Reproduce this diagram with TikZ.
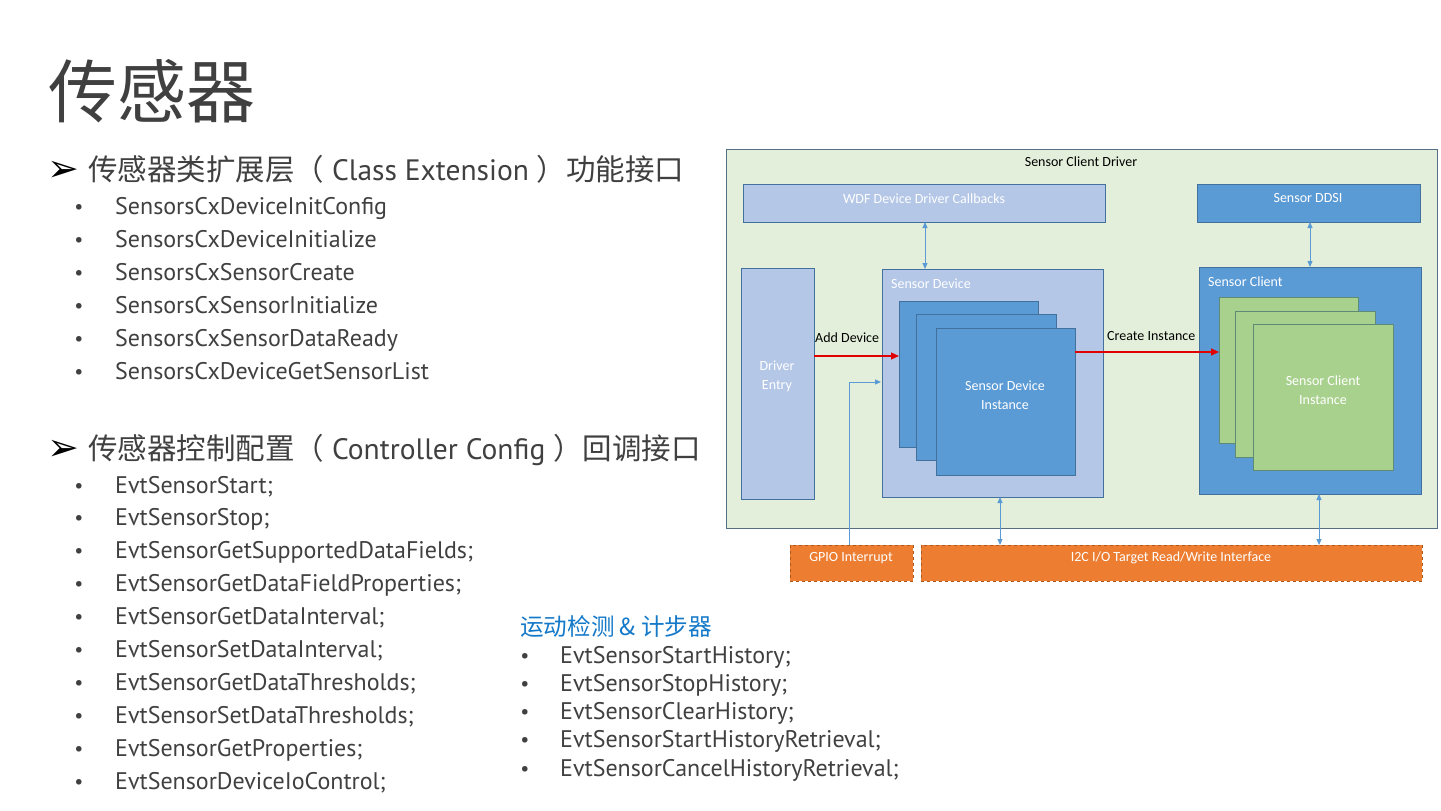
\documentclass[tikz,border=0pt]{standalone}
\usepackage{fontspec}
\setmainfont{PT Sans}
\newfontfamily\cjk{Noto Sans CJK SC}
\newfontfamily\dejavu{DejaVu Sans}
\newfontfamily\calib{Carlito}
\usetikzlibrary{arrows.meta,calc}

\definecolor{txt}{HTML}{404040}
\definecolor{headblue}{HTML}{1479C9}
\definecolor{bgreen}{HTML}{E3EFDA}
\definecolor{bgborder}{HTML}{557085}
\definecolor{lblue}{HTML}{B4C7E7}
\definecolor{mblue}{HTML}{5B9BD5}
\definecolor{bborder}{HTML}{41719C}
\definecolor{lgreen}{HTML}{A9D18E}
\definecolor{gborder}{HTML}{5F8A75}
\definecolor{orng}{HTML}{ED7D31}
\definecolor{oborder}{HTML}{A9581F}
\definecolor{conn}{HTML}{5B9BD5}
\definecolor{redarrow}{HTML}{E00000}

\tikzset{
  box/.style={draw=bborder, line width=0.8pt, inner sep=0pt, outer sep=0pt, anchor=north west},
  lbox/.style={box, fill=lblue},
  mbox/.style={box, fill=mblue},
  gbox/.style={box, draw=gborder, fill=lgreen},
  obox/.style={box, draw=oborder, dashed, fill=orng},
  wtext/.style={font=\calib\fontsize{14}{19}\selectfont, text=white, inner sep=0pt, align=center},
  ktext/.style={font=\calib\fontsize{14}{17}\selectfont, text=black, inner sep=0pt},
  blink/.style={draw=conn, line width=1pt},
  tip/.style={-{Triangle[length=6pt,width=5pt]}},
  dtip/.style={{Triangle[length=6pt,width=5pt]}-{Triangle[length=6pt,width=5pt]}},
  rlink/.style={draw=redarrow, line width=1.2pt, -{Triangle[length=8pt,width=7pt]}},
  item/.style={font=\fontsize{24}{27}\selectfont, text=txt, inner sep=0pt, anchor=base west},
  bul/.style={font=\fontsize{20}{24}\selectfont, text=txt, inner sep=0pt, anchor=base},
  head/.style={font=\fontsize{29.5}{32}\selectfont, text=txt, inner sep=0pt, anchor=base west},
  harrow/.style={font=\dejavu\fontsize{38}{40}\selectfont, text=black, inner sep=0pt, anchor=base west},
}

\begin{document}
\begin{tikzpicture}[x=1pt,y=-1pt]
\useasboundingbox (0,0) rectangle (1441,811);
\fill[white] (0,0) rectangle (1441,811);

% Title
\node[font=\cjk\fontsize{69}{72}\selectfont, text=txt, inner sep=0pt, anchor=base west] (title) at (48,117) {传感器};

% Heading 1
\node[harrow] (arr1) at (47,181) {➢};
\node[head] (h1) at (88,180) {{\cjk 传感器类扩展层（} Class Extension {\cjk ）功能接口}};

\foreach \t [count=\i] in {SensorsCxDeviceInitConfig,SensorsCxDeviceInitialize,SensorsCxSensorCreate,SensorsCxSensorInitialize,SensorsCxSensorDataReady,SensorsCxDeviceGetSensorList}{
  \node[bul] (ba\i) at (79,{206+33*(\i-1)+7}) {•};
  \node[item] (a\i) at (115,{206+33*(\i-1)+8}) {\t};
}

% Heading 2
\node[harrow] (arr2) at (47,460) {➢};
\node[head] (h2) at (88,459) {{\cjk 传感器控制配置（} Controller Config {\cjk ）回调接口}};

\foreach \t [count=\i] in {EvtSensorStart;,EvtSensorStop;,EvtSensorGetSupportedDataFields;,EvtSensorGetDataFieldProperties;,EvtSensorGetDataInterval;,EvtSensorSetDataInterval;,EvtSensorGetDataThresholds;,EvtSensorSetDataThresholds;,EvtSensorGetProperties;,EvtSensorDeviceIoControl;}{
  \node[bul] (bb\i) at (79,{485+32.9*(\i-1)+7}) {•};
  \node[item] (b\i) at (115,{485+32.9*(\i-1)+8}) {\t};
}

% Heading 3
\node[font=\cjk\fontsize{23.6}{26}\selectfont, text=headblue, inner sep=0pt, anchor=base west] (h3) at (520,635) {运动检测 \& 计步器};
\foreach \t [count=\i] in {EvtSensorStartHistory;,EvtSensorStopHistory;,EvtSensorClearHistory;,EvtSensorStartHistoryRetrieval;,EvtSensorCancelHistoryRetrieval;}{
  \node[bul] (bc\i) at (525,{655+28.3*(\i-1)+7}) {•};
  \node[item] (c\i) at (560,{655+28.3*(\i-1)+8}) {\t};
}

% ---------------- Diagram ----------------
\node[box, draw=bgborder, fill=bgreen, minimum width=711, minimum height=379] (scd) at (726,149) {};
\node[ktext] (scdt) at (1081,162) {Sensor Client Driver};

\node[lbox, minimum width=362, minimum height=38] (wdf) at (743,184) {};
\node[wtext] (wdft) at (924,199) {WDF Device Driver Callbacks};

\node[mbox, minimum width=223, minimum height=38] (ddsi) at (1197,184) {};
\node[wtext] (ddsit) at (1308,198) {Sensor DDSI};

\node[lbox, minimum width=73, minimum height=231] (de) at (741,268) {};
\node[wtext] (det) at (777,376) {Driver\\Entry};

\node[lbox, minimum width=221, minimum height=228] (sdev) at (882,269) {};
\node[wtext, anchor=west] (sdevt) at (891,284) {Sensor Device};

\node[mbox, minimum width=139, minimum height=146] (di1) at (899,301) {};
\node[mbox, minimum width=140, minimum height=146] (di2) at (916,314) {};
\node[mbox, minimum width=139, minimum height=147] (di3) at (936,328) {};
\node[wtext] (di3t) at (1005,395) {Sensor Device\\Instance};

\node[mbox, minimum width=222, minimum height=227] (scl) at (1199,267) {};
\node[wtext, anchor=west] (sclt) at (1208,282) {Sensor Client};

\node[gbox, minimum width=139, minimum height=146] (ci1) at (1219,297) {};
\node[gbox, minimum width=140, minimum height=146] (ci2) at (1235,311) {};
\node[gbox, minimum width=140, minimum height=146] (ci3) at (1253,324) {};
\node[wtext] (ci3t) at (1323,390) {Sensor Client\\Instance};

\node[obox, minimum width=123, minimum height=36] (gpio) at (790,545) {};
\node[wtext] (gpiot) at (851,558) {GPIO Interrupt};
\node[obox, minimum width=501, minimum height=36] (i2c) at (921,545) {};
\node[wtext] (i2ct) at (1171,558) {I2C I/O Target Read/Write Interface};

% helper coordinates
\coordinate (xa) at (925,0);
\coordinate (xb) at (1310,0);
\coordinate (xc) at (1000,0);
\coordinate (xd) at (1319,0);
\coordinate (xg) at (849,0);
\coordinate (yadd) at (0,356);
\coordinate (ycre) at (0,352);
\coordinate (ygp) at (0,382);

% connectors
\draw[blink, dtip] (wdf.south -| xa) -- (sdev.north -| xa);
\draw[blink, dtip] (ddsi.south -| xb) -- (scl.north -| xb);
\draw[blink, dtip] (sdev.south -| xc) -- (i2c.north -| xc);
\draw[blink, dtip] (scl.south -| xd) -- (i2c.north -| xd);
\draw[blink, tip, shorten >=1pt] (gpio.north -| xg) |- (sdev.west |- ygp);

\draw[rlink] (de.east |- yadd) -- (di1.west |- yadd);
\node[ktext, anchor=west] (addl) at (815,338) {Add Device};
\draw[rlink] (di3.east |- ycre) -- (ci1.west |- ycre);
\node[ktext, anchor=west] (crel) at (1107,336) {Create Instance};

\end{tikzpicture}
\end{document}
